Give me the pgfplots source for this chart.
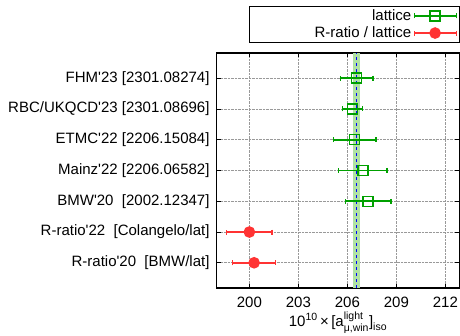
\documentclass[border=0pt]{standalone}
\usepackage{pgfplots}
\pgfplotsset{compat=1.18}
\usepackage{amsmath}
\usepackage{fontspec}
\defaultfontfeatures[\rmfamily]{}
\setmainfont{Liberation Sans}
\definecolor{lgreen}{RGB}{0,160,0}
\definecolor{lred}{RGB}{255,51,51}
\definecolor{band}{RGB}{176,226,164}
\begin{document}
\fontsize{15bp}{18bp}\selectfont
\begin{tikzpicture}
\useasboundingbox (0,0) rectangle (460bp,336bp);
\begin{axis}[
  at={(216.7bp,48bp)}, anchor=south west,
  scale only axis, width=242.6bp, height=235bp,
  xmin=198, xmax=212.85, ymin=0.18, ymax=7.82,
  xtick={200,203,206,209,212},
  ytick={1,2,3,4,5,6,7},
  yticklabels={R-ratio'20\ \ [BMW/lat], R-ratio'22\ \ [Colangelo/lat], BMW'20\ \ [2002.12347], Mainz'22 [2206.06582], ETMC'22 [2206.15084], RBC/UKQCD'23 [2301.08696], FHM'23 [2301.08274]},
  /pgf/number format/assume math mode=true,
  grid=major, major grid style={densely dotted, gray!80, line width=0.6bp},
  tick align=inside, major tick length=4bp, tick style={black, line width=0.8bp},
  axis line style={line width=1.2bp},
  xticklabel style={yshift=-4bp},
  yticklabel style={xshift=-2bp},
  xlabel={$\text{10}^{\text{10}}\,\text{×}\,\text{[a}^{\text{light}}_{\text{μ,win}}\text{]}_{\text{iso}}$},
  xlabel style={yshift=6bp},
  legend plot pos=right,
  legend style={at={(1,1)}, anchor=south east, yshift=10bp, draw=black, line width=0.8bp,
    inner xsep=2bp, inner ysep=1bp, row sep=0bp, cells={anchor=east},
    /tikz/every even column/.append style={column sep=6bp}},
  legend image code/.code={
    \draw[#1,mark=none] (0bp,0bp) -- (42bp,0bp);
    \draw[#1,mark=none,line width=1.2bp] (0bp,-2.5bp) -- (0bp,2.5bp) (42bp,-2.5bp) -- (42bp,2.5bp);
    \draw[#1] plot coordinates {(21bp,0bp)};
  },
]
\addplot[draw=none, fill=band, forget plot] coordinates {(206.37,0.18) (206.78,0.18) (206.78,7.82) (206.37,7.82)} -- cycle;
\addplot[blue, line width=1.5bp, dash pattern=on 3bp off 3bp, forget plot] coordinates {(206.57,0.18) (206.57,7.82)};
\addplot[lgreen, line width=1.6bp, mark=square, mark size=5bp, mark options={line width=1.5bp, solid},
  only marks,
  error bars/.cd, x dir=both, x explicit,
  error bar style={draw=lgreen, line width=1.6bp, solid, opacity=1},
  error mark=|,
  error mark options={draw=lgreen, line width=1.2bp, mark size=2.5bp, rotate=0}]
  coordinates {
  (206.57,7) +- (1.0,0)
  (206.32,6) +- (0.6,0)
  (206.45,5) +- (1.3,0)
  (206.95,4) +- (1.48,0)
  (207.27,3) +- (1.4,0)
  };
\addlegendentry{\makebox[158bp][r]{lattice}}
\addplot[lred, line width=1.6bp, only marks, mark=*, mark size=5bp, mark options={solid},
  error bars/.cd, x dir=both, x explicit,
  error bar style={draw=lred, line width=1.6bp, solid, opacity=1},
  error mark=|,
  error mark options={draw=lred, line width=1.2bp, mark size=2.5bp, rotate=0}]
  coordinates {
  (200.0,2) +- (1.385,0)
  (200.29,1) +- (1.32,0)
  };
\addlegendentry{\makebox[158bp][r]{R-ratio / lattice}}
\end{axis}
\end{tikzpicture}
\end{document}
